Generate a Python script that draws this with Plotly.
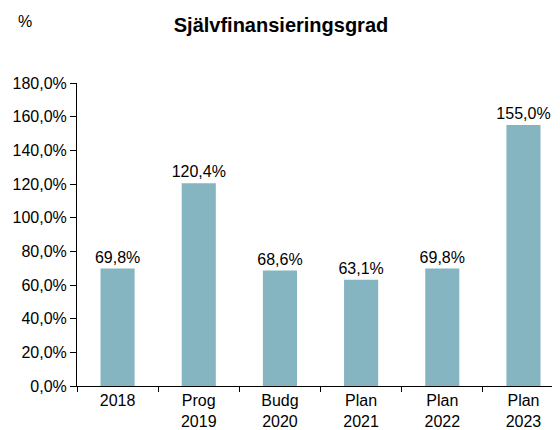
import plotly.graph_objects as go

categories = ["2018", "Prog<br>2019", "Budg<br>2020", "Plan<br>2021", "Plan<br>2022", "Plan<br>2023"]
values = [69.8, 120.4, 68.6, 63.1, 69.8, 155.0]
y_ticks = [0, 20, 40, 60, 80, 100, 120, 140, 160, 180]
y_tick_labels = ["0,0%", "20,0%", "40,0%", "60,0%", "80,0%", "100,0%", "120,0%", "140,0%", "160,0%", "180,0%"]

# page has an 8px body margin, so the figure is 552x422 and offsets are reduced by 8px
fig = go.Figure()
fig.add_trace(go.Bar(
    x=categories, y=values,
    marker=dict(color="#84B5C0", line=dict(width=0)),
    texttemplate="%{y:.1f}%", textposition="outside", constraintext="none",
    textfont=dict(size=16, color="black", family="Liberation Sans, Arial"),
    cliponaxis=False, width=0.42,
))
fig.update_layout(
    width=552, height=422,
    margin=dict(l=69, r=0, t=75, b=44, autoexpand=False),
    paper_bgcolor="white", plot_bgcolor="white",
    separators=", ",
    font=dict(family="Liberation Sans, Arial", size=16, color="black"),
    showlegend=False,
    title=dict(text="<b>Självfinansieringsgrad</b>", x=(281 - 8) / 552, xanchor="center",
               y=1 - 17 / 422, yanchor="middle", font=dict(size=20, color="black")),
)
fig.layout.annotations = [dict(text="%", x=(25 - 77) / 483, xanchor="center", y=(386 - 22) / 303, yanchor="middle",
                               yref="paper", xref="paper", showarrow=False, font=dict(size=16))]
fig.update_xaxes(
    range=[-0.5, 5.45], showline=True, linecolor="black", linewidth=1,
    ticks="outside", tickson="boundaries", ticklen=5, tickcolor="black",
    showgrid=False, tickfont=dict(size=16), automargin=False, ticklabelstandoff=0,
)
fig.update_yaxes(
    range=[0, 180], tickvals=y_ticks, ticktext=y_tick_labels,
    showline=True, linecolor="black", linewidth=1, ticks="outside", ticklen=6,
    tickcolor="black", showgrid=False, zeroline=False, tickfont=dict(size=16), automargin=False,
)
fig.write_html("out.html")
